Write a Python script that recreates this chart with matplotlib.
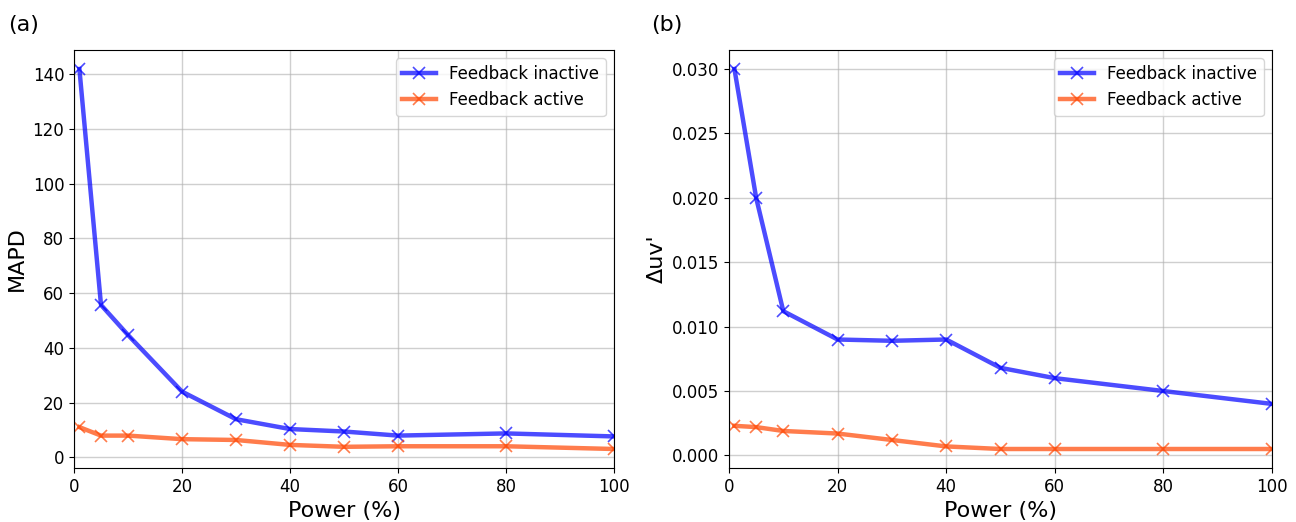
import matplotlib
matplotlib.use('Agg')
import matplotlib.pyplot as plt

plt.rcParams.update({'font.size': 12, 'font.family': 'DejaVu Sans'})

power = [1, 5, 10, 20, 30, 40, 50, 60, 80, 100]
mapd_inactive = [142, 55.7, 44.7, 24.0, 13.9, 10.3, 9.4, 7.9, 8.7, 7.6]
mapd_active = [11.0, 7.9, 7.9, 6.6, 6.3, 4.5, 3.8, 4.0, 4.0, 3.0]
duv_inactive = [0.030, 0.020, 0.0112, 0.0090, 0.0089, 0.0090, 0.0068, 0.0060, 0.0050, 0.0040]
duv_active = [0.0023, 0.0022, 0.0019, 0.0017, 0.0012, 0.0007, 0.0005, 0.0005, 0.0005, 0.0005]

fig = plt.figure(figsize=(12.96, 5.22), dpi=100)
ax1 = fig.add_axes([74/1296, 1-468/522, 540/1296, 418/522])
ax2 = fig.add_axes([729/1296, 1-468/522, 543/1296, 418/522])

panels = [(ax1, mapd_inactive, mapd_active, 'MAPD', '(a)', 8),
          (ax2, duv_inactive, duv_active, "\u0394uv'", '(b)', 651)]
for ax, inact, act, ylab, tag, tx in panels:
    ax.plot(power, inact, color='blue', alpha=0.7, lw=3.2, marker='x', ms=9,
            mew=1.2, label='Feedback inactive')
    ax.plot(power, act, color='orangered', alpha=0.7, lw=3.2, marker='x', ms=9,
            mew=1.2, label='Feedback active')
    ax.set_xlim(0, 100)
    ax.set_xlabel('Power (%)', fontsize=16)
    ax.set_ylabel(ylab, fontsize=16)
    ax.grid(True, color='#b0b0b0', alpha=0.6, lw=1)
    ax.legend(loc='upper right', fontsize=12)
    fig.text(tx/1296, 1-25/522, tag, fontsize=16, va='center', ha='left')

ax1.set_yticks(range(0, 141, 20))
ax2.set_yticks([0, 0.005, 0.010, 0.015, 0.020, 0.025, 0.030])
ax2.set_yticklabels(['0.000', '0.005', '0.010', '0.015', '0.020', '0.025', '0.030'])

fig.savefig('out.png', dpi=100)
